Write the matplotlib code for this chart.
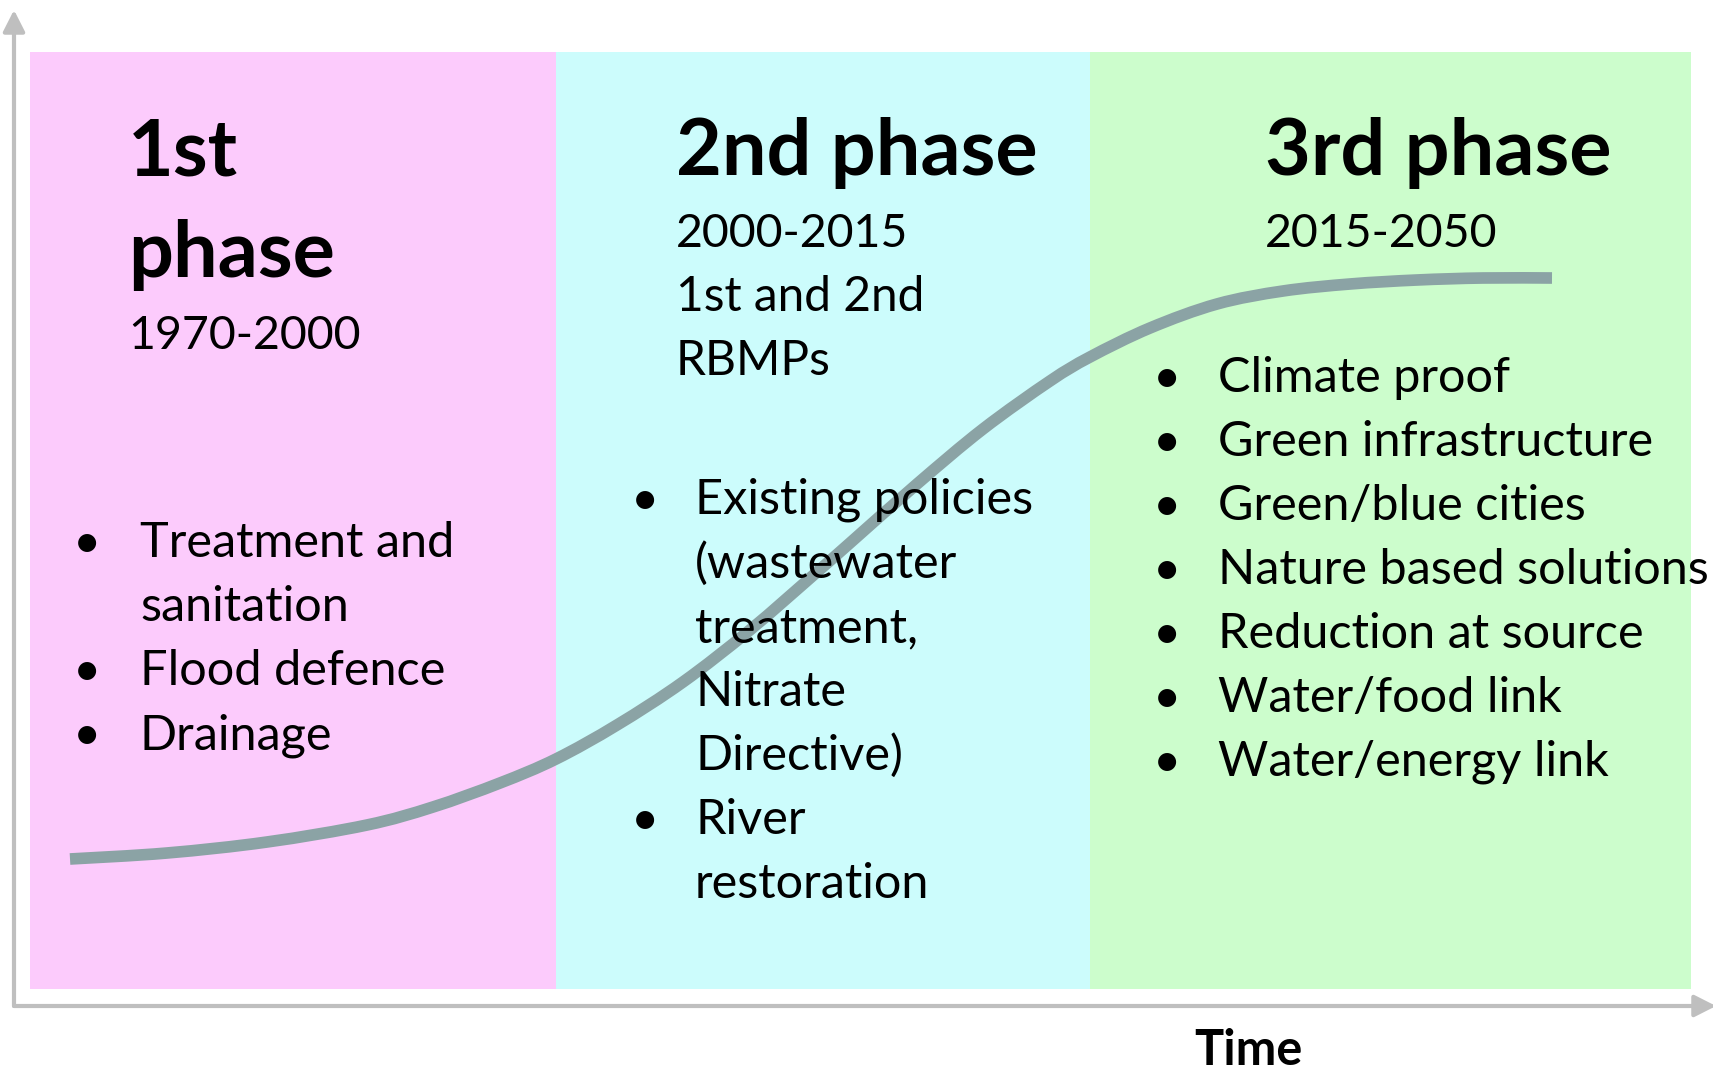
import matplotlib.pyplot as plt
import numpy as np
from matplotlib.patches import Rectangle, FancyArrowPatch, PathPatch
from matplotlib.path import Path

plt.rcParams['font.family'] = ['Lato', 'DejaVu Sans']

# phase content
phase_names = [['1st', 'phase'], ['2nd phase'], ['3rd phase']]
phase_years = ['1970-2000', '2000-2015', '2015-2050']
phase_notes = [[], ['1st and 2nd', 'RBMPs'], []]
phase_bullets = [
    [['Treatment and', 'sanitation'], ['Flood defence'], ['Drainage']],
    [['Existing policies', '(wastewater', 'treatment,', 'Nitrate', 'Directive)'],
     ['River', 'restoration']],
    [['Climate proof'], ['Green infrastructure'], ['Green/blue cities'],
     ['Nature based solutions'], ['Reduction at source'], ['Water/food link'],
     ['Water/energy link']],
]
phase_colors = ['#fccbfc', '#ccfcfc', '#ccfdcc']

# phase boundaries along the time axis
phase_edges = [30, 556, 1090, 1691]

# S-curve (time, progress)
curve_x = [70, 167, 267, 367, 433, 500, 556, 617, 683, 750, 817, 850, 917,
           983, 1050, 1090, 1150, 1217, 1283, 1350, 1417, 1483, 1552]
curve_y = [859, 853, 842, 825, 807, 783, 759, 725, 682, 630, 572, 543, 484,
           429, 381, 357, 328, 304, 291, 284, 280, 278, 278]

# layout
W, H = 1713, 1074
box_top, box_bottom = 52, 989
head_x = [128, 676, 1265]
head_base = 175
head_step = 102
year_gap = 72
line_step = 64
bullet_start = [557, 514, 392]
bullet_x = [87, 645, 1167]
item_x = [140, 695, 1218]
axis_col = '#bfbfbf'
curve_col = '#8ba3a5'


def smooth_path(xs, ys):
    # Catmull-Rom through the read points, drawn as cubic Bezier segments
    pts = np.column_stack([xs, ys]).astype(float)
    n = len(pts)
    verts = [pts[0]]
    codes = [Path.MOVETO]
    for i in range(n - 1):
        p0 = pts[i - 1] if i > 0 else pts[i]
        p1 = pts[i]
        p2 = pts[i + 1]
        p3 = pts[i + 2] if i + 2 < n else pts[i + 1]
        verts += [p1 + (p2 - p0) / 6, p2 - (p3 - p1) / 6, p2]
        codes += [Path.CURVE4] * 3
    return Path(verts, codes)


fig = plt.figure(figsize=(W / 100, H / 100), dpi=100)
ax = fig.add_axes([0, 0, 1, 1])
ax.set_xlim(0, W)
ax.set_ylim(H, 0)
ax.axis('off')

for i, col in enumerate(phase_colors):
    ax.add_patch(Rectangle((phase_edges[i], box_top), phase_edges[i + 1] - phase_edges[i],
                           box_bottom - box_top, facecolor=col, lw=0, zorder=0))

ax.add_patch(PathPatch(smooth_path(curve_x, curve_y), facecolor='none', edgecolor=curve_col,
                       lw=8.4, capstyle='butt', zorder=2))

for i in range(3):
    y = head_base
    for j, line in enumerate(phase_names[i]):
        if j > 0:
            y += head_step
        ax.text(head_x[i], y, line, fontsize=57, fontweight='bold', va='baseline', zorder=3)
    y += year_gap
    ax.text(head_x[i], y, phase_years[i], fontsize=33.5, va='baseline', zorder=3)
    for note in phase_notes[i]:
        y += line_step
        ax.text(head_x[i], y, note, fontsize=34.5, va='baseline', zorder=3)

    y = bullet_start[i]
    for item in phase_bullets[i]:
        ax.text(bullet_x[i], y, '\u2022', fontsize=35, ha='center', va='baseline', zorder=3)
        for line in item:
            ax.text(item_x[i], y, line, fontsize=35, va='baseline', zorder=3)
            y += line_step

# axes arrows
style = '-|>,head_length=0.65,head_width=0.33'
ax.add_patch(FancyArrowPatch((14, 1006), (14, 10), arrowstyle=style, mutation_scale=20,
                             color=axis_col, lw=3, shrinkA=0, shrinkB=0, zorder=1))
ax.add_patch(FancyArrowPatch((14, 1006), (1716, 1006), arrowstyle=style, mutation_scale=20,
                             color=axis_col, lw=3, shrinkA=0, shrinkB=0, zorder=1))

ax.text(1248, 1073, 'Time', fontsize=35, fontweight='bold', ha='center', va='bottom')

fig.savefig('out.png', dpi=100)
